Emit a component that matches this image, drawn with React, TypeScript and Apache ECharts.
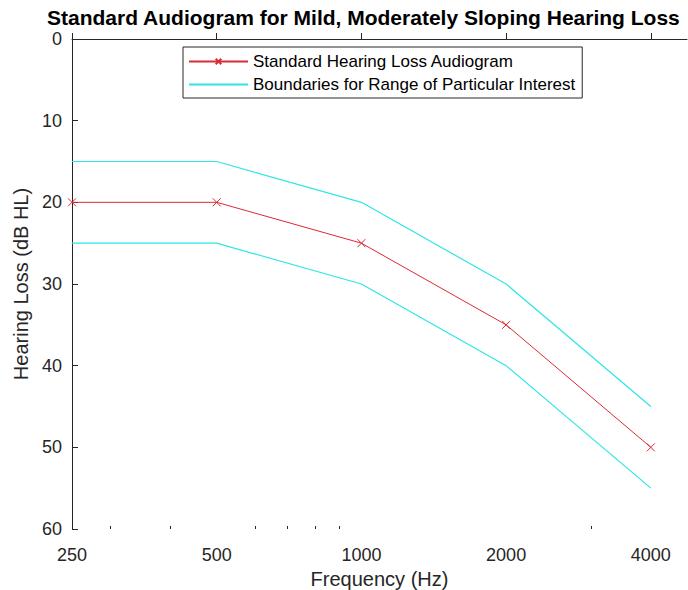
import React, { useEffect, useRef } from "react";
import * as echarts from "echarts";

const frequencies = [250, 500, 1000, 2000, 4000];
const standardLoss = [20, 20, 25, 35, 50];
const upperBoundary = [15, 15, 20, 30, 45];
const lowerBoundary = [25, 25, 30, 40, 55];
const xMajorTicks = [250, 500, 1000, 2000, 4000];
const xMinorTicks = [300, 400, 600, 700, 800, 900, 3000];

const FONT = "'Liberation Sans', Arial, Helvetica, sans-serif";
const AXIS_COLOR = "#262626";
const RED = "#dc2a34";
const CYAN = "#2fe6e6";

const zip = (ys: number[]) => frequencies.map((f, i) => [f, ys[i]]);

export default function App() {
  const ref = useRef<HTMLDivElement>(null);
  useEffect(() => {
    if (!ref.current) return;
    const chart = echarts.init(ref.current, undefined, { renderer: "svg" });
    const baseX = {
      type: "log" as const,
      logBase: 2,
      min: 250,
      max: 4757,
      position: "bottom" as const,
      splitLine: { show: false },
    };
    chart.setOption({
      animation: false,
      backgroundColor: "#ffffff",
      textStyle: { fontFamily: FONT },
      title: {
        text: "Standard Audiogram for Mild, Moderately Sloping Hearing Loss",
        left: 47,
        top: 7,
        padding: 0,
        textStyle: { fontFamily: FONT, fontSize: 21, fontWeight: "bold", color: "#000000" },
      },
      legend: {
        orient: "vertical",
        left: 183,
        top: 47,
        data: [
          { name: "Standard Hearing Loss Audiogram" },
          { name: "Boundaries for Range of Particular Interest", itemStyle: { opacity: 0 } },
        ],
        itemWidth: 59,
        itemHeight: 7,
        itemGap: 6,
        padding: [6, 7, 5, 5],
        borderColor: AXIS_COLOR,
        borderWidth: 1,
        backgroundColor: "#ffffff",
        textStyle: { fontFamily: FONT, fontSize: 17, color: "#000000" },
      },
      grid: { left: 72, right: 1, top: 39, bottom: 61, containLabel: false, outerBoundsMode: "none" },
      xAxis: [
        {
          ...baseX,
          name: "Frequency (Hz)",
          nameLocation: "middle",
          nameGap: 40,
          nameTextStyle: { fontFamily: FONT, fontSize: 20, color: AXIS_COLOR },
          axisLine: { show: true, lineStyle: { color: AXIS_COLOR, width: 1 } },
          axisTick: { show: true, inside: true, length: 6, customValues: xMajorTicks, lineStyle: { color: AXIS_COLOR } },
          axisLabel: {
            show: true,
            customValues: xMajorTicks,
            formatter: (v: number) => String(Math.round(v)),
            fontFamily: FONT,
            fontSize: 18,
            color: AXIS_COLOR,
            margin: 17,
          },
        },
        {
          ...baseX,
          axisLine: { show: false },
          axisTick: { show: true, inside: true, length: 3, customValues: xMinorTicks, lineStyle: { color: AXIS_COLOR } },
          axisLabel: { show: false },
        },
      ],
      yAxis: {
        type: "value",
        inverse: true,
        min: 0,
        max: 60,
        interval: 10,
        name: "Hearing Loss (dB HL)",
        nameLocation: "middle",
        nameGap: 41,
        nameTextStyle: { fontFamily: FONT, fontSize: 20, color: AXIS_COLOR },
        axisLine: { show: true, lineStyle: { color: AXIS_COLOR, width: 1 } },
        axisTick: { show: true, inside: true, length: 6, lineStyle: { color: AXIS_COLOR } },
        axisLabel: { fontFamily: FONT, fontSize: 18, color: AXIS_COLOR, margin: 10 },
        splitLine: { show: false },
      },
      series: [
        {
          name: "Standard Hearing Loss Audiogram",
          type: "line",
          data: zip(standardLoss),
          symbol: "path://M0,0L10,10M10,0L0,10",
          symbolSize: 8,
          showSymbol: true,
          lineStyle: { color: RED, width: 1 },
          itemStyle: { color: RED, borderColor: RED, borderWidth: 1 },
          z: 3,
        },
        {
          name: "Boundaries for Range of Particular Interest",
          type: "line",
          data: zip(upperBoundary),
          symbol: "none",
          lineStyle: { color: CYAN, width: 1.2 },
          itemStyle: { color: CYAN },
        },
        {
          name: "Boundaries for Range of Particular Interest",
          type: "line",
          data: zip(lowerBoundary),
          symbol: "none",
          lineStyle: { color: CYAN, width: 1.2 },
          itemStyle: { color: CYAN },
        },
      ],
    });
    return () => chart.dispose();
  }, []);
  return <div ref={ref} style={{ width: 688, height: 590, position: "absolute", left: 0, top: 0 }} />;
}
